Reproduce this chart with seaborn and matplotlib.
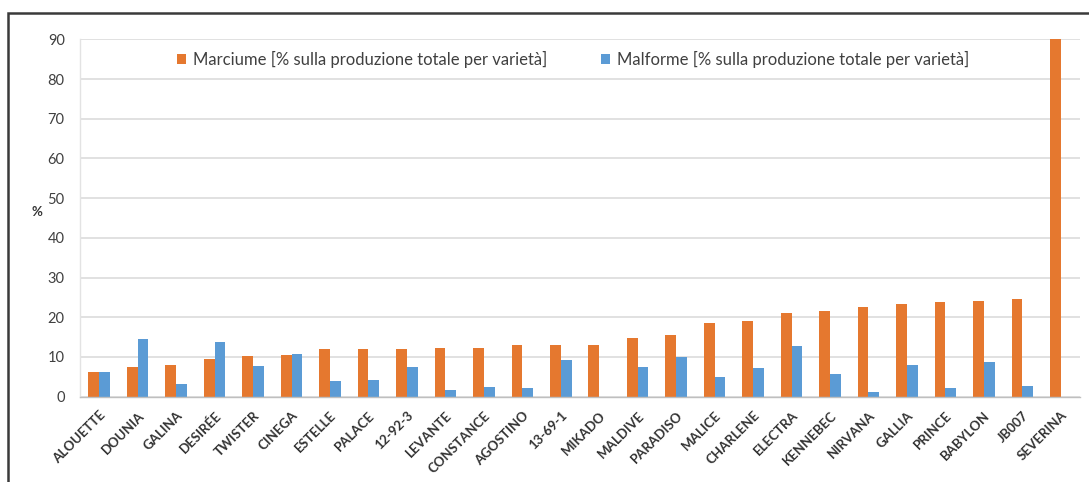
import matplotlib
matplotlib.use("Agg")
import matplotlib.pyplot as plt
from matplotlib.patches import Rectangle
import seaborn as sns
import pandas as pd

varieties = ["ALOUETTE", "DOUNIA", "GALINA", "DESIRÉE", "TWISTER", "CINEGA", "ESTELLE",
             "PALACE", "12-92-3", "LEVANTE", "CONSTANCE", "AGOSTINO", "13-69-1", "MIKADO",
             "MALDIVE", "PARADISO", "MALICE", "CHARLENE", "ELECTRA", "KENNEBEC", "NIRVANA",
             "GALLIA", "PRINCE", "BABYLON", "JB007", "SEVERINA"]
marciume = [6.3, 7.4, 8.0, 9.4, 10.2, 10.5, 11.9, 11.9, 12.1, 12.3, 12.3, 13.0, 13.1, 13.1,
            14.8, 15.6, 18.6, 19.1, 21.0, 21.6, 22.5, 23.3, 23.9, 24.2, 24.7, 90.0]
malforme = [6.3, 14.5, 3.1, 13.9, 7.7, 10.8, 4.0, 4.2, 7.4, 1.7, 2.5, 2.3, 9.2, 0.0,
            7.4, 9.9, 5.0, 7.3, 12.8, 5.6, 1.3, 7.9, 2.1, 8.7, 2.6, 0.0]
series_names = ["Marciume [% sulla produzione totale per varietà]",
                "Malforme [% sulla produzione totale per varietà]"]
colors = ["#E5782F", "#5B9BD5"]
y_ticks = list(range(0, 91, 10))

df = pd.DataFrame({
    "Varietà": varieties * 2,
    "Valore": marciume + malforme,
    "Serie": [series_names[0]] * len(varieties) + [series_names[1]] * len(varieties),
})

sns.set_theme(style="white")
plt.rcParams["font.family"] = ["Lato", "DejaVu Sans"]

fig = plt.figure(figsize=(10.89, 4.82), dpi=100)
ax = fig.add_axes([80 / 1089, 1 - 396.7 / 482, 1000 / 1089, (396.7 - 39.3) / 482])

sns.barplot(data=df, x="Varietà", y="Valore", hue="Serie", palette=colors,
            width=0.56, saturation=1, linewidth=0, ax=ax, legend=True)

ax.set_ylim(0, 90)
ax.set_xlim(-0.5, len(varieties) - 0.5)
ax.set_yticks(y_ticks)
ax.set_yticklabels([str(t) for t in y_ticks], fontsize=10.5, color="#404040")
ax.yaxis.grid(True, color="#D9D9D9", linewidth=1.1)
ax.set_axisbelow(True)
ax.tick_params(axis="y", length=5, color="#D9D9D9", pad=6)

# category ticks sit between the groups
ax.set_xticks([i for i in range(len(varieties))])
ax.set_xticklabels(varieties, rotation=45, ha="right", rotation_mode="anchor",
                   fontsize=9.5, color="#333333", fontweight="bold")
ax.tick_params(axis="x", length=0, pad=9)
ax.set_xticks([i - 0.5 for i in range(len(varieties) + 1)], minor=True)
ax.tick_params(axis="x", which="minor", length=5, color="#BFBFBF", width=1)

for side in ["top", "right"]:
    ax.spines[side].set_visible(False)
ax.spines["left"].set_color("#E3E3E3")
ax.spines["bottom"].set_color("#BFBFBF")
ax.spines["left"].set_linewidth(1)
ax.spines["bottom"].set_linewidth(1)

ax.set_xlabel("")
ax.set_ylabel("%", rotation=0, fontsize=9.5, fontweight="bold", color="#333333")
ax.yaxis.set_label_coords(-0.043, 0.5)

leg = ax.legend(loc="upper center", bbox_to_anchor=(0.493, 1.01), ncol=2, frameon=False,
                fontsize=12, handlelength=0.55, handleheight=0.55, handletextpad=0.4,
                columnspacing=3.2)
for t in leg.get_texts():
    t.set_color("#404040")

# outer frame around the chart
frame = Rectangle((8 / 1089, -0.2), 1.3, 0.2 + (482 - 13) / 482, transform=fig.transFigure,
                  fill=False, edgecolor="#3A3A3A", linewidth=1.8, clip_on=False)
fig.add_artist(frame)

fig.savefig("out.png", dpi=100)
